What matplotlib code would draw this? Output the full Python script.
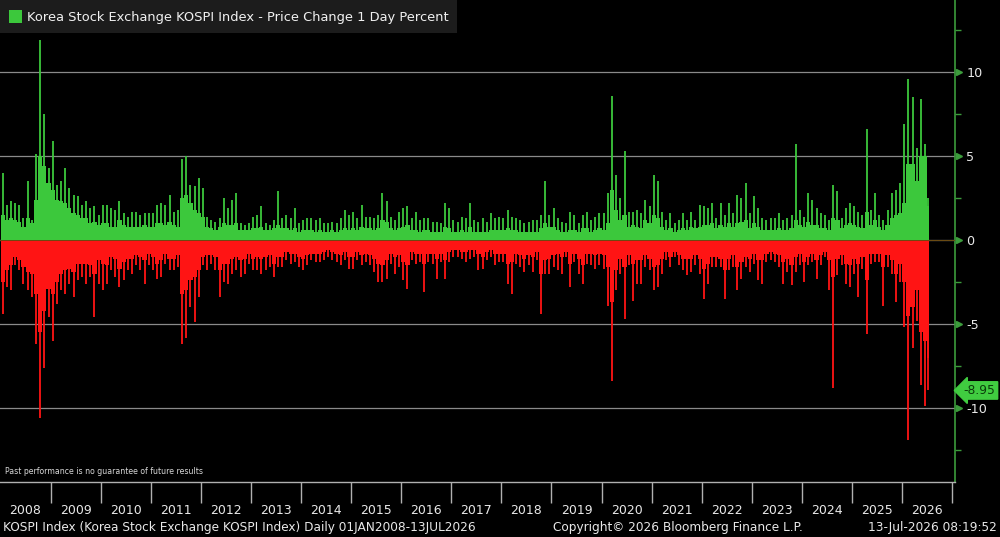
import numpy as np
import matplotlib
matplotlib.use("Agg")
import matplotlib.pyplot as plt
from matplotlib.patches import Rectangle
import matplotlib.transforms as mtransforms

# ---------------- data (monthly, Jan 2008 .. Jul 2026) ----------------
first_year = 2008
last_month_days = 13 / 31          # data ends 13 Jul 2026

# largest daily gain in each month (%)
up_max = [
    4.0, 2.1, 2.3, 2.2, 2.1, 1.3, 3.5, 1.2, 5.1, 11.9, 7.5, 4.3,   # 2008
    5.9, 3.3, 3.5, 4.3, 3.1, 2.7, 2.6, 2.1, 2.3, 1.9, 2.0, 1.5,    # 2009
    2.1, 2.1, 1.9, 1.8, 2.3, 1.6, 1.4, 1.7, 1.7, 1.5, 1.6, 1.6,    # 2010
    1.6, 2.1, 2.2, 2.1, 2.7, 1.7, 1.8, 4.8, 5.0, 3.3, 3.2, 3.7,    # 2011
    3.1, 1.4, 1.2, 1.1, 1.3, 2.5, 1.9, 2.4, 2.8, 1.0, 0.9, 1.0,    # 2012
    1.4, 1.5, 2.0, 1.0, 0.9, 1.2, 2.9, 1.3, 1.5, 1.3, 1.9, 1.0,    # 2013
    1.2, 1.3, 1.3, 1.2, 1.3, 1.0, 1.0, 1.1, 1.0, 1.3, 1.8, 1.5,    # 2014
    1.7, 1.3, 2.1, 1.4, 1.4, 1.3, 1.5, 2.8, 2.3, 1.4, 1.2, 1.7,    # 2015
    1.9, 2.0, 1.3, 1.7, 1.2, 1.3, 1.3, 1.1, 1.1, 1.0, 2.2, 1.9,    # 2016
    1.2, 1.1, 1.4, 1.3, 2.2, 1.2, 1.1, 1.3, 1.1, 1.6, 1.3, 1.4,    # 2017
    1.3, 1.8, 1.4, 1.3, 1.2, 1.0, 1.1, 1.2, 1.2, 1.5, 3.5, 1.5,    # 2018
    1.9, 1.3, 1.1, 1.0, 1.7, 1.5, 1.0, 1.5, 1.7, 1.2, 1.4, 1.6,    # 2019
    1.6, 2.8, 8.6, 3.9, 2.5, 5.3, 1.7, 1.7, 1.8, 1.6, 2.4, 2.0,    # 2020
    3.9, 3.5, 1.7, 1.2, 1.6, 1.0, 1.2, 1.6, 1.2, 1.7, 1.2, 2.1,    # 2021
    2.0, 1.9, 2.2, 1.3, 2.2, 1.5, 2.2, 1.6, 2.7, 2.5, 3.4, 1.6,    # 2022
    2.6, 1.9, 1.3, 1.2, 1.3, 1.3, 1.6, 1.2, 1.3, 1.5, 5.7, 1.8,    # 2023
    1.4, 2.8, 2.4, 1.9, 1.6, 1.5, 1.2, 3.3, 2.9, 1.3, 1.9, 2.2,    # 2024
    2.0, 1.7, 1.5, 6.6, 1.8, 2.8, 1.5, 1.2, 1.8, 2.8, 3.0, 3.4,    # 2025
    6.9, 9.6, 8.5, 5.5, 8.4, 5.7, 2.5,                             # 2026
]

# typical size of up days in each month (%)
up_body = [
    1.5, 1.2, 1.3, 1.2, 1.1, 0.8, 1.3, 1.0, 2.4, 5.0, 4.4, 3.4,
    3.0, 2.4, 2.3, 2.2, 1.9, 1.6, 1.5, 1.3, 1.3, 1.0, 1.1, 0.9,
    1.0, 1.0, 0.8, 0.8, 1.2, 0.9, 0.8, 0.8, 0.8, 0.8, 0.9, 0.8,
    0.8, 1.0, 1.0, 0.9, 1.1, 0.9, 0.8, 2.5, 2.7, 2.2, 1.8, 1.6,
    1.4, 0.8, 0.7, 0.6, 0.8, 1.0, 0.9, 0.9, 1.0, 0.6, 0.6, 0.6,
    0.7, 0.7, 0.8, 0.6, 0.6, 0.7, 0.9, 0.7, 0.7, 0.6, 0.7, 0.5,
    0.6, 0.6, 0.6, 0.5, 0.6, 0.5, 0.5, 0.6, 0.5, 0.6, 0.7, 0.6,
    0.7, 0.6, 0.8, 0.7, 0.7, 0.6, 0.7, 1.2, 1.1, 0.7, 0.6, 0.7,
    0.8, 0.9, 0.6, 0.6, 0.5, 0.6, 0.6, 0.5, 0.5, 0.5, 0.8, 0.7,
    0.5, 0.5, 0.6, 0.5, 0.8, 0.5, 0.5, 0.5, 0.5, 0.6, 0.6, 0.6,
    0.6, 0.7, 0.6, 0.6, 0.5, 0.5, 0.5, 0.5, 0.5, 0.7, 1.0, 0.8,
    0.8, 0.6, 0.5, 0.5, 0.6, 0.6, 0.5, 0.7, 0.7, 0.5, 0.6, 0.7,
    0.6, 1.0, 3.0, 1.8, 1.2, 1.5, 0.8, 0.9, 0.8, 0.7, 1.2, 1.0,
    1.5, 1.3, 0.8, 0.6, 0.7, 0.5, 0.6, 0.7, 0.6, 0.8, 0.7, 0.8,
    0.9, 0.9, 1.0, 0.7, 0.9, 0.8, 1.0, 0.8, 1.0, 1.1, 1.2, 0.7,
    1.0, 0.8, 0.6, 0.6, 0.6, 0.6, 0.7, 0.6, 0.6, 0.7, 1.2, 0.9,
    0.8, 1.1, 0.9, 0.9, 0.7, 0.7, 0.6, 1.3, 1.2, 0.7, 0.9, 1.0,
    0.9, 0.8, 0.7, 1.7, 0.9, 1.2, 0.8, 0.6, 0.9, 1.3, 1.5, 1.6,
    2.2, 4.5, 4.5, 3.5, 5.0, 5.0, 2.0,
]

# largest daily loss in each month (%)
dn_max = [
    -4.4, -2.8, -3.0, -1.5, -1.8, -2.6, -3.0, -3.4, -6.2, -10.6, -7.6, -4.6,
    -6.0, -3.8, -3.0, -3.2, -2.6, -3.4, -2.4, -2.2, -2.6, -2.2, -4.6, -2.6,
    -3.0, -2.6, -1.8, -2.2, -2.8, -2.4, -1.8, -2.0, -1.5, -1.8, -2.6, -1.5,
    -1.8, -2.3, -2.2, -1.4, -1.8, -1.8, -1.6, -6.2, -5.8, -4.0, -4.9, -3.4,
    -1.5, -1.8, -1.4, -1.8, -3.4, -2.5, -2.6, -2.0, -1.8, -2.2, -2.0, -1.4,
    -1.8, -1.8, -2.0, -1.8, -1.6, -2.2, -1.6, -1.6, -1.2, -1.4, -1.3, -1.6,
    -1.8, -1.5, -1.2, -1.3, -1.3, -1.2, -1.0, -1.2, -1.3, -1.5, -1.2, -1.7,
    -1.7, -1.2, -1.5, -1.3, -1.5, -1.9, -2.5, -2.5, -2.3, -1.4, -2.0, -1.6,
    -2.4, -2.9, -1.2, -1.4, -1.3, -3.1, -1.3, -1.4, -2.3, -1.3, -2.3, -1.3,
    -1.0, -1.0, -1.1, -1.3, -1.1, -1.0, -1.8, -1.7, -1.2, -1.0, -1.5, -1.3,
    -1.3, -2.6, -3.2, -1.4, -1.6, -1.9, -1.5, -1.9, -1.2, -4.4, -2.0, -2.0,
    -1.6, -1.8, -2.0, -1.0, -2.8, -1.3, -2.0, -2.6, -1.4, -1.5, -1.7, -1.5,
    -1.7, -3.9, -8.4, -3.0, -2.0, -4.7, -1.5, -3.6, -2.6, -2.6, -1.6, -1.8,
    -3.0, -2.8, -2.0, -1.2, -1.6, -1.0, -1.5, -1.8, -2.1, -1.9, -1.5, -2.0,
    -3.5, -2.6, -1.6, -1.6, -1.6, -3.5, -1.8, -1.6, -3.0, -2.3, -1.6, -1.9,
    -1.4, -2.4, -2.6, -1.3, -1.2, -1.3, -1.6, -2.6, -1.9, -2.7, -1.9, -1.5,
    -2.5, -1.5, -1.3, -2.3, -1.5, -1.0, -3.0, -8.8, -2.1, -1.5, -2.6, -2.8,
    -2.0, -3.4, -1.7, -5.6, -1.4, -1.3, -1.3, -3.9, -1.6, -2.0, -3.7, -2.5,
    -5.2, -11.9, -6.4, -4.8, -8.6, -9.9, -8.95,
]

# typical size of down days in each month (%)
dn_body = [
    -2.5, -1.8, -1.5, -1.0, -1.2, -1.6, -1.9, -2.0, -3.2, -5.5, -4.2, -2.9,
    -3.2, -2.5, -2.0, -1.8, -1.7, -1.9, -1.4, -1.4, -1.4, -1.5, -2.0, -1.2,
    -1.4, -1.5, -1.0, -1.1, -1.7, -1.3, -1.1, -1.1, -0.9, -1.0, -1.2, -0.8,
    -1.0, -1.4, -1.2, -0.8, -1.1, -1.1, -0.9, -3.2, -3.0, -2.4, -2.2, -1.8,
    -1.0, -0.9, -0.9, -1.0, -1.8, -1.4, -1.4, -1.1, -1.0, -1.2, -1.1, -0.8,
    -1.1, -1.0, -1.1, -1.0, -0.9, -1.4, -1.0, -1.0, -0.7, -0.8, -0.8, -1.0,
    -1.1, -0.9, -0.8, -0.8, -0.8, -0.7, -0.6, -0.7, -0.8, -0.9, -0.7, -1.0,
    -1.0, -0.7, -0.9, -0.8, -0.9, -1.1, -1.4, -1.5, -1.2, -0.8, -1.0, -0.9,
    -1.3, -1.5, -0.7, -0.8, -0.8, -1.4, -0.8, -0.8, -1.1, -0.8, -1.2, -0.7,
    -0.6, -0.6, -0.7, -0.7, -0.6, -0.6, -0.8, -1.0, -0.7, -0.6, -0.8, -0.8,
    -0.8, -1.4, -1.3, -0.8, -0.9, -1.1, -0.9, -1.0, -0.7, -2.0, -1.2, -1.1,
    -0.9, -0.8, -1.0, -0.7, -1.4, -0.8, -1.1, -1.5, -0.8, -0.8, -0.9, -0.8,
    -0.9, -1.6, -3.7, -1.8, -1.1, -1.6, -0.9, -1.4, -1.2, -1.2, -0.9, -1.1,
    -1.6, -1.5, -1.1, -0.7, -1.0, -0.7, -0.9, -1.1, -1.1, -1.1, -0.9, -1.1,
    -1.7, -1.4, -1.0, -1.0, -1.1, -1.8, -1.1, -0.9, -1.6, -1.3, -1.0, -1.1,
    -0.8, -1.2, -1.2, -0.8, -0.7, -0.8, -0.9, -1.3, -1.1, -1.5, -1.0, -0.8,
    -1.3, -1.0, -0.8, -1.2, -0.9, -0.7, -1.2, -2.2, -1.1, -0.9, -1.4, -1.5,
    -1.1, -1.4, -1.0, -2.4, -0.8, -0.8, -0.8, -1.6, -0.9, -1.2, -2.0, -1.4,
    -2.5, -4.5, -4.0, -3.0, -5.5, -6.0, -7.0,
]

year_labels = [str(y) for y in range(2008, 2027)]
y_ticks = [-10, -5, 0, 5, 10]
title_text = "Korea Stock Exchange KOSPI Index - Price Change 1 Day Percent"
footer_left = "KOSPI Index (Korea Stock Exchange KOSPI Index) Daily 01JAN2008-13JUL2026"
footer_mid = "Copyright\u00a9 2026 Bloomberg Finance L.P."
footer_right = "13-Jul-2026 08:19:52"
disclaimer = "Past performance is no guarantee of future results"

# ---------------- drawing ----------------
GREEN = "#3cc83c"
RED = "#ff1414"
AXGREEN = "#3c9c3c"
GRID = "#8a8a8a"
TXT = "#e8e8e8"

n = len(up_max)
starts = first_year + np.arange(n) / 12.0
widths = np.full(n, 1 / 12.0)
widths[-1] = last_month_days / 12.0
ends = starts + widths
centers = starts + widths / 2

W, H = 1000, 537
fig = plt.figure(figsize=(W / 100, H / 100), dpi=100, facecolor="black")
ax = fig.add_axes([0, 1 - 482 / H, 955 / W, 482 / H])
ax.set_facecolor("black")

xmin = first_year - 0.5 / 50.09
xmax = first_year + 954.5 / 50.09
ax.set_xlim(xmin, xmax)
ax.set_ylim(-14.40, 14.29)

for t in y_ticks:
    ax.axhline(t, color=GRID, lw=0.9, zorder=1)

edges = np.append(starts, ends[-1])
ub = np.append(up_body, up_body[-1])
db = np.append(dn_body, dn_body[-1])
ax.fill_between(edges, 0, ub, step="post", color=GREEN, lw=0, zorder=2)
ax.fill_between(edges, 0, db, step="post", color=RED, lw=0, zorder=2)
ax.vlines(centers, 0, up_max, colors=GREEN, lw=1.3, zorder=3)
ax.vlines(centers, dn_max, 0, colors=RED, lw=1.3, zorder=3)
ax.axhline(0, color="#6a4a10", lw=0.7, zorder=4)

# spines
for s in ["left", "top"]:
    ax.spines[s].set_visible(False)
ax.spines["right"].set_color(AXGREEN)
ax.spines["right"].set_linewidth(1.2)
ax.spines["bottom"].set_color("#b0b0b0")
ax.spines["bottom"].set_linewidth(1.0)

# y axis on the right
ax.yaxis.tick_right()
ax.set_yticks(y_ticks)
ax.set_yticklabels([str(t) for t in y_ticks])
ax.set_yticks([-12.5, -7.5, -2.5, 2.5, 7.5, 12.5], minor=True)
ax.tick_params(axis="y", which="major", length=0, pad=8, labelcolor=TXT, labelsize=9.2)
ax.tick_params(axis="y", which="minor", length=4, width=1, color=AXGREEN, direction="out")
trans_y = mtransforms.blended_transform_factory(ax.transAxes, ax.transData)
ax.plot([1.0045] * len(y_ticks), y_ticks, ls="none", marker=">", ms=5,
        color=AXGREEN, transform=trans_y, clip_on=False, zorder=5)

# last value tag
last_val = dn_max[-1]
ax.text(1.009, last_val, f"{last_val:.2f}", transform=trans_y, ha="left", va="center",
        fontsize=8.8, color="#0b3d0b", clip_on=False,
        bbox=dict(boxstyle="larrow,pad=0.18", fc="#40cc40", ec="#40cc40"))

# x axis: year separators and labels
year_bounds = np.arange(first_year + 1, first_year + len(year_labels) + 1)
ax.set_xticks(year_bounds)
ax.set_xticklabels([""] * len(year_bounds))
ax.tick_params(axis="x", which="major", length=15, width=1, color="#b0b0b0", direction="out")
ax.set_xticks(np.arange(first_year, first_year + len(year_labels)) + 0.5, minor=True)
ax.set_xticklabels(year_labels, minor=True)
ax.tick_params(axis="x", which="minor", length=0, pad=16, labelcolor=TXT, labelsize=9)

# legend box
fig.add_artist(Rectangle((0, 1 - 33 / H), 457 / W, 33 / H, transform=fig.transFigure,
                         fc="#1c1c1c", ec="none", zorder=10))
fig.add_artist(Rectangle((9 / W, 1 - 23 / H), 13 / W, 13 / H, transform=fig.transFigure,
                         fc=GREEN, ec="none", zorder=11))
fig.text(27 / W, 1 - 17 / H, title_text, color="#f0f0f0", fontsize=9.4, va="center",
         ha="left", zorder=12)

fig.text(5 / W, 1 - 471 / H, disclaimer, color="#d8d8d8", fontsize=5.6, va="center", ha="left")

fig.text(3 / W, 1 - 527 / H, footer_left, color=TXT, fontsize=8.7, va="center", ha="left")
fig.text(553 / W, 1 - 527 / H, footer_mid, color=TXT, fontsize=8.7, va="center", ha="left")
fig.text(997 / W, 1 - 527 / H, footer_right, color=TXT, fontsize=8.7, va="center", ha="right")

fig.savefig("out.png", dpi=100, facecolor="black")
